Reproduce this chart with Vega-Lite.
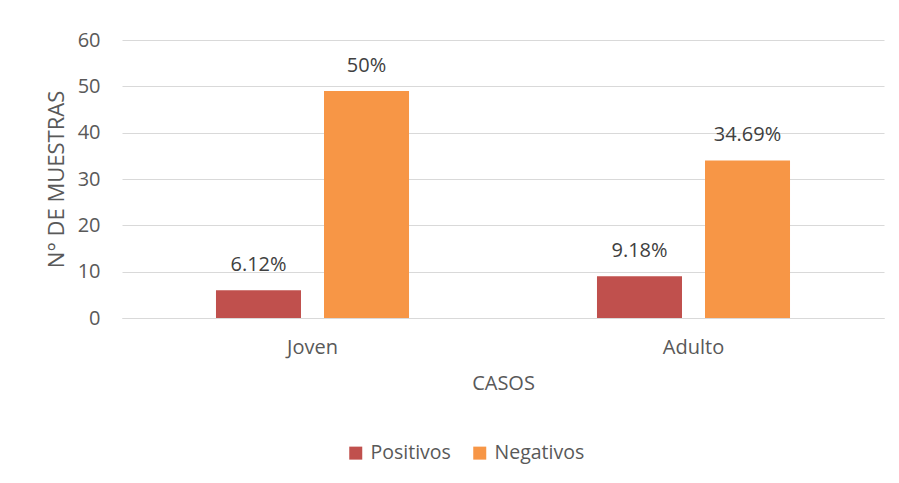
{
  "$schema": "https://vega.github.io/schema/vega-lite/v6.json",
  "autosize": {"type": "none"},
  "padding": {"left": 122, "top": 40, "right": 15, "bottom": 165},
  "width": 762,
  "height": 278,
  "background": "white",
  "config": {
    "view": {"stroke": null},
    "font": "Open Sans"
  },
  "data": {
    "values": [
      {"caso": "Joven", "tipo": "Positivos", "muestras": 6, "label": "6.12%"},
      {"caso": "Joven", "tipo": "Negativos", "muestras": 49, "label": "50%"},
      {"caso": "Adulto", "tipo": "Positivos", "muestras": 9, "label": "9.18%"},
      {"caso": "Adulto", "tipo": "Negativos", "muestras": 34, "label": "34.69%"}
    ]
  },
  "encoding": {
    "x": {
      "field": "caso", "type": "nominal", "sort": ["Joven", "Adulto"],
      "scale": {"paddingInner": 0, "paddingOuter": 0},
      "axis": {
        "title": "CASOS", "labelAngle": 0, "ticks": false,
        "domainColor": "#D9D9D9", "labelColor": "#595959", "titleColor": "#595959",
        "labelFontSize": 20, "titleFontSize": 20, "titleFontWeight": "normal",
        "labelPadding": 19, "titlePadding": 16
      }
    },
    "xOffset": {
      "field": "tipo", "type": "nominal", "sort": ["Positivos", "Negativos"],
      "scale": {"paddingInner": 0.213, "paddingOuter": 0.87}
    },
    "y": {
      "field": "muestras", "type": "quantitative",
      "scale": {"domain": [0, 60]},
      "axis": {
        "title": "N° DE MUESTRAS", "values": [0, 10, 20, 30, 40, 50, 60],
        "domain": false, "ticks": false, "gridColor": "#D9D9D9",
        "labelColor": "#595959", "titleColor": "#595959",
        "labelFontSize": 20, "titleFontSize": 22, "titleFontWeight": "normal",
        "labelPadding": 22, "titlePadding": 9
      }
    }
  },
  "layer": [
    {
      "mark": {"type": "bar"},
      "encoding": {
        "color": {
          "field": "tipo", "type": "nominal", "sort": ["Positivos", "Negativos"],
          "scale": {"domain": ["Positivos", "Negativos"], "range": ["#C0504D", "#F79646"]},
          "legend": {
            "title": null, "orient": "none", "direction": "horizontal",
            "legendX": 224, "legendY": 403,
            "symbolType": "square", "symbolSize": 169, "symbolStrokeWidth": 0,
            "labelFontSize": 19.5, "labelColor": "#595959", "columnPadding": 19,
            "labelOffset": 5
          }
        }
      }
    },
    {
      "mark": {"type": "text", "baseline": "middle", "dy": -25, "fontSize": 20, "color": "#404040"},
      "encoding": {"text": {"field": "label"}}
    }
  ]
}
